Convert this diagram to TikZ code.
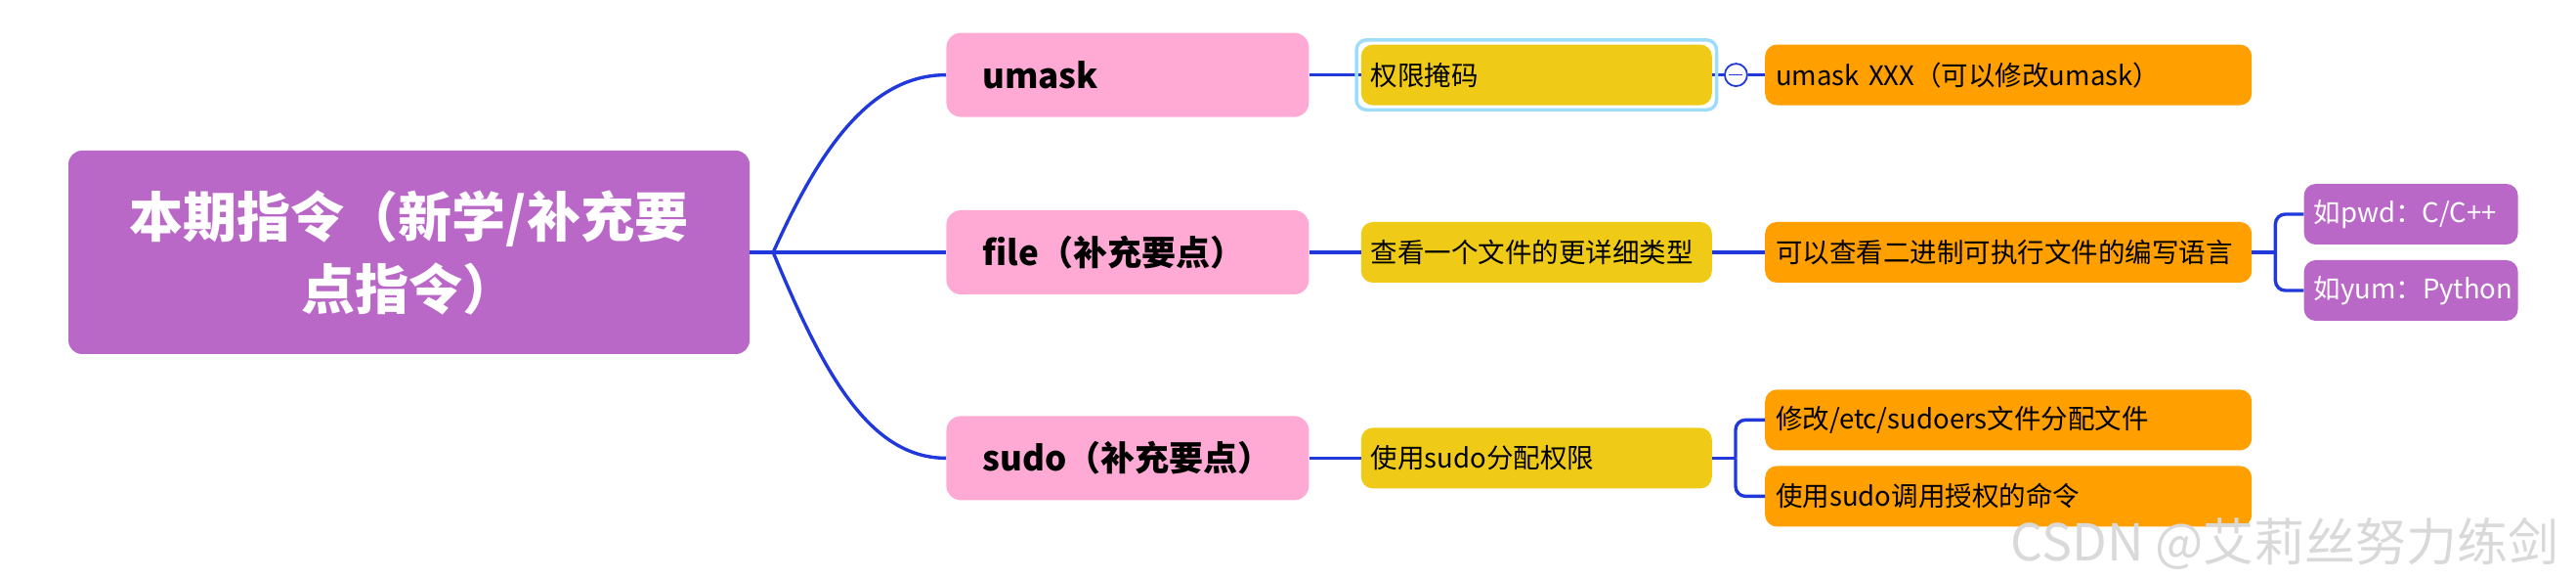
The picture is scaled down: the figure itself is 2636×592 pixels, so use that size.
\documentclass[tikz,border=0pt]{standalone}
\usepackage{fontspec}
\setmainfont{Noto Sans CJK SC}
\usepackage{tikz}
\usetikzlibrary{positioning}
\definecolor{rootpurple}{HTML}{BA68C8}
\definecolor{topicpink}{HTML}{FFAAD5}
\definecolor{infogold}{HTML}{EFCB17}
\definecolor{detailorange}{HTML}{FF9F00}
\definecolor{linkblue}{HTML}{2139DB}
\definecolor{selblue}{HTML}{9EDDFA}
\tikzstyle{rootbox} = [rectangle, rounded corners=14pt, fill=rootpurple, text=white, font=\bfseries\fontsize{55}{74}\selectfont, minimum width=697pt, minimum height=208pt, align=center]
\tikzstyle{topic} = [rectangle, rounded corners=15pt, fill=topicpink, font=\bfseries\fontsize{35}{40}\selectfont, text width=297pt, inner xsep=37pt, inner ysep=4pt, minimum height=86pt, align=left]
\tikzstyle{info} = [rectangle, rounded corners=12pt, fill=infogold, font=\fontsize{27.5}{32}\selectfont, text width=339pt, inner xsep=10pt, inner ysep=4pt, minimum height=62pt, align=left]
\tikzstyle{detail} = [rectangle, rounded corners=12pt, fill=detailorange, font=\fontsize{27.5}{32}\selectfont, text width=476pt, inner xsep=11pt, inner ysep=4pt, minimum height=62pt, align=left]
\tikzstyle{example} = [rectangle, rounded corners=12pt, fill=rootpurple, text=white, font=\fontsize{27.5}{32}\selectfont, text width=199pt, inner xsep=10pt, inner ysep=4pt, minimum height=62pt, align=left]
\tikzstyle{link} = [line width=3.4pt, draw=linkblue]
\tikzstyle{fold} = [circle, draw=linkblue, line width=1.8pt, fill=white, text=linkblue, minimum size=23pt, inner sep=0pt]
\tikzstyle{selection} = [draw=selblue, line width=3.5pt, rounded corners=10pt]
\tikzstyle{watermark} = [text=gray!30, font=\fontsize{52}{60}\selectfont]

\begin{document}
\begin{tikzpicture}[x=1pt, y=1pt]
\useasboundingbox (0,0) rectangle (2636,592);
\node[rootbox] (root) at (418.5,334) {本期指令（新学/补充要\\点指令）};
\node[topic, right=201pt of root] (file) {file（补充要点）};
\node[topic, above=95pt of file] (umask) {umask};
\node[topic, below=124pt of file] (sudo) {sudo（补充要点）};
\node[info, right=53pt of umask] (perm) {权限掩码};
\node[info, right=53pt of file] (ftype) {查看一个文件的更详细类型};
\node[info, right=53pt of sudo] (sinfo) {使用sudo分配权限};
\node[fold, right=12pt of perm] (fold) {\rule{14pt}{1.8pt}};
\node[detail, right=54pt of perm] (uset) {umask XXX（可以修改umask）};
\node[detail, right=54pt of ftype] (lang) {可以查看二进制可执行文件的编写语言};
\node[detail, right=54pt of sinfo, yshift=39pt] (edit) {修改/etc/sudoers文件分配文件};
\node[detail, right=54pt of sinfo, yshift=-39pt] (grant) {使用sudo调用授权的命令};
\node[example, right=53pt of lang, yshift=39pt] (pwd) {如pwd：C/C++};
\node[example, right=53pt of lang, yshift=-39pt] (yum) {如yum：Python};
\node[watermark, anchor=base east] (csdn) at (2622,19) {CSDN @艾莉丝努力练剑};

\coordinate[right=24pt of root] (hub);
\coordinate[right=24pt of sinfo] (sjoint);
\coordinate[right=24pt of lang] (ljoint);

\draw [link] (root) -- (hub);
\draw [link] (hub) -- (file);
\draw [link] (hub) .. controls +(45,100) and +(-80,0) .. (umask.west);
\draw [link] (hub) .. controls +(50,-120) and +(-80,0) .. (sudo.west);

\draw [link] (umask) -- (perm);
\draw [link] (file) -- (ftype);
\draw [link] (sudo) -- (sinfo);

\draw [link] (perm) -- (fold);
\draw [link] (fold) -- (uset);
\draw [link] (ftype) -- (lang);
\draw [link] (sinfo) -- (sjoint);
\draw [link, rounded corners=10pt] (sjoint) |- (edit);
\draw [link, rounded corners=10pt] (sjoint) |- (grant);

\draw [link] (lang) -- (ljoint);
\draw [link, rounded corners=10pt] (ljoint) |- (pwd);
\draw [link, rounded corners=10pt] (ljoint) |- (yum);

\draw [selection] ([shift={(-4.5pt,4.5pt)}]perm.north west) rectangle ([shift={(4.5pt,-4.5pt)}]perm.south east);
\end{tikzpicture}
\end{document}
